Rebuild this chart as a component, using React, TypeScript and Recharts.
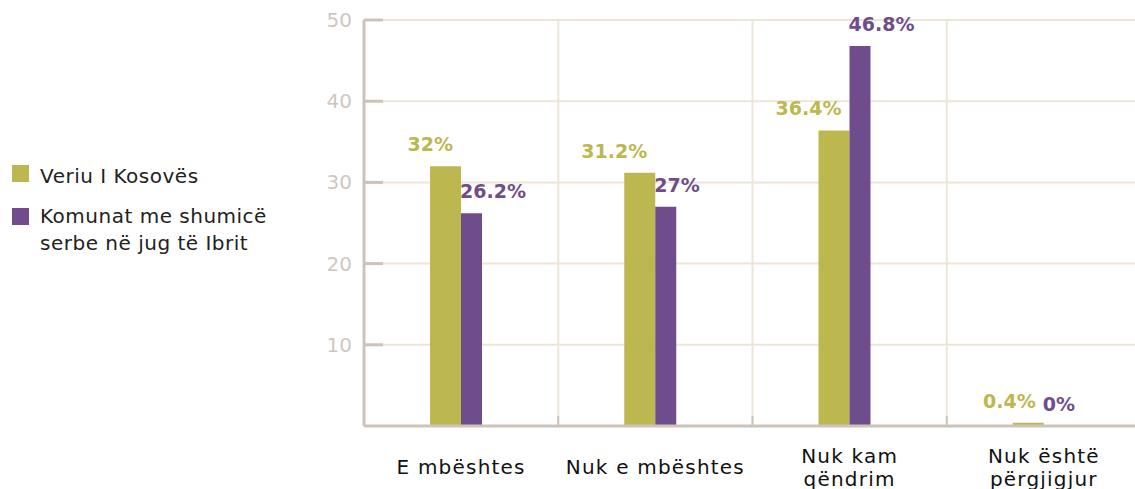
import React from 'react';
import { BarChart, Bar, XAxis, YAxis, CartesianGrid, LabelList } from 'recharts';

const categories = ['E mbështes', 'Nuk e mbështes', 'Nuk kam\nqëndrim', 'Nuk është\npërgjigjur'];
const veriuValues = [32, 31.2, 36.4, 0.4];
const komunatValues = [26.2, 27, 46.8, 0];
const seriesNames = ['Veriu I Kosovës', 'Komunat me shumicë serbe në jug të Ibrit'];
const seriesColors = ['#BDB750', '#6F4D8C'];
const yTicks = [10, 20, 30, 40, 50];

const data = categories.map((c, i) => ({ name: c, veriu: veriuValues[i], komunat: komunatValues[i] }));

const FONT = "'DejaVu Sans', sans-serif";
const AXIS = '#CCC4BA';
const GRID = '#EDE6D8';

const YTick = (props: any) => {
  const { x, y, payload } = props;
  return (
    <g>
      <text x={x} y={y} textAnchor="end" dominantBaseline="central" fontFamily={FONT} fontSize={20} fill="#CFC7BF">
        {payload.value}
      </text>
      <line x1={x + 12} x2={x + 31} y1={y} y2={y} stroke={AXIS} strokeWidth={3} />
    </g>
  );
};

const XTick = (props: any) => {
  const { x, y, payload, index } = props;
  const lines = String(payload.value).split('\n');
  const half = payload.offset;
  const startY = y + 41 - ((lines.length - 1) * 23) / 2;
  return (
    <g>
      {typeof half === 'number' && index < categories.length - 1 ? (
        <line x1={x + half} x2={x + half} y1={y - 10} y2={y} stroke={AXIS} strokeWidth={2} />
      ) : null}
      <text textAnchor="middle" fontFamily={FONT} fontSize={20} letterSpacing={1.2} fill="#111">
        {lines.map((l, i) => (
          <tspan key={i} x={x} y={startY + i * 23} dominantBaseline="central">
            {l}
          </tspan>
        ))}
      </text>
    </g>
  );
};

const NarrowBar = (props: any) => {
  const { x, y, width, height, fill } = props;
  return <rect x={x} y={y} width={Math.min(width, 21)} height={Math.max(height, 0)} fill={fill} />;
};

const oliveLabel = (props: any) => {
  const { x, y, width, value } = props;
  return (
    <text x={x + width - 8} y={y - 22} textAnchor="end" dominantBaseline="central" fontFamily={FONT} fontWeight="bold" fontSize={19} fill={seriesColors[0]}>
      {value}%
    </text>
  );
};

const purpleLabel = (props: any) => {
  const { x, y, value } = props;
  return (
    <text x={x - 1} y={y - 22} textAnchor="start" dominantBaseline="central" fontFamily={FONT} fontWeight="bold" fontSize={19} fill={seriesColors[1]}>
      {value}%
    </text>
  );
};

export default function App() {
  const gridX = ({ offset }: any) => [1, 2, 3].map((i) => offset.left + (offset.width * i) / categories.length);
  return (
    <div style={{ position: 'absolute', left: 0, top: 0, width: 1135, height: 489, overflow: 'hidden', background: '#fff' }}>
      <div style={{ position: 'absolute', left: 12, top: 163, fontFamily: FONT, fontSize: 20, letterSpacing: 0.5, color: '#222', lineHeight: '27px' }}>
        {seriesNames.map((n, i) => (
          <div key={n} style={{ position: 'relative', paddingLeft: 28, width: 270, marginBottom: 12.5 }}>
            <span style={{ position: 'absolute', left: 0, top: i === 0 ? 2 : 5.5, width: 17, height: 17, background: seriesColors[i] }} />
            {n}
          </div>
        ))}
      </div>
      <BarChart width={1141} height={489} data={data} margin={{ top: 20, right: 0, left: 0, bottom: 0 }} barGap={0}>
        <CartesianGrid stroke={GRID} strokeWidth={2} verticalCoordinatesGenerator={gridX} />
        <XAxis dataKey="name" height={63} tickSize={0} tickMargin={0} tick={<XTick />} axisLine={{ stroke: AXIS, strokeWidth: 3 }} interval={0} />
        <YAxis width={364} domain={[0, 50]} ticks={yTicks} tickSize={0} tickMargin={12} tick={<YTick />} axisLine={{ stroke: AXIS, strokeWidth: 3 }} />
        <Bar dataKey="veriu" name={seriesNames[0]} fill={seriesColors[0]} barSize={31} isAnimationActive={false}>
          <LabelList dataKey="veriu" content={oliveLabel} />
        </Bar>
        <Bar dataKey="komunat" name={seriesNames[1]} fill={seriesColors[1]} barSize={31} shape={<NarrowBar />} isAnimationActive={false}>
          <LabelList dataKey="komunat" content={purpleLabel} />
        </Bar>
      </BarChart>
    </div>
  );
}
